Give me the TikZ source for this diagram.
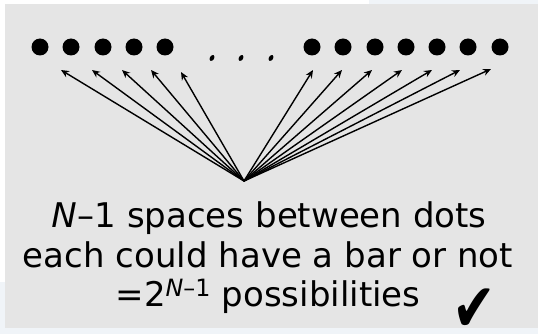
\documentclass[tikz,border=0pt]{standalone}
\usepackage{fontspec}
\setmainfont{DejaVu Sans}
\newfontfamily\symfont{DejaVu Sans}
\usetikzlibrary{arrows.meta}
\definecolor{panelgray}{HTML}{E5E5E5}
\definecolor{paleblue}{HTML}{F0F4F8}
\tikzset{
  dotnode/.style={circle,fill=black,minimum size=17pt,inner sep=0pt},
  arr/.style={line width=1.4pt,-{Stealth[length=8pt,width=7pt]}},
  txt/.style={anchor=base,inner sep=0pt,font=\fontsize{34}{40}\selectfont}
}
\begin{document}
\begin{tikzpicture}[x=1pt,y=-1pt]
\useasboundingbox (0,0) rectangle (538,334);
\fill[paleblue] (0,0) rectangle (538,334);
\fill[white] (0,0) rectangle (369,4);
\fill[white] (0,0) rectangle (5,282);
\fill[panelgray] (5,4) rectangle (538,328);
% dots
\foreach \i/\x in {1/40,2/71,3/103,4/134,5/165,6/312,7/343,8/375,9/406,10/437,11/468,12/500}
  \node[dotnode] (d\i) at (\x,47) {};
% ellipsis
\foreach \x in {212,241,271}
  \fill[rotate around={60:(\x,58)}] (\x,58) ellipse (3.2pt and 2.2pt);
% arrows
\coordinate (apex) at (244,181);
\foreach \i/\x/\y in {1/61/70,2/92/70,3/122/70,4/151/70,5/181/72,6/313/70,7/342/70,8/372/70,9/402/70,10/432/70,11/460/70,12/491/69}{
  \coordinate (t\i) at (\x,\y);
  \draw[arr] (apex) -- (t\i);
}
% text
\node[txt] (l1) at (269,227) {\textit{N}\kern1pt–1 spaces between dots};
\node[txt] (l2) at (268,267) {each could have a bar or not};
\node[txt] (l3) at (268,306) {=2\textsuperscript{\textit{N}–1} possibilities};
\node[inner sep=0pt,font=\symfont\fontsize{52}{52}\selectfont] (chk) at (474,310) {\scalebox{1}[1.3]{✔}};
\end{tikzpicture}
\end{document}
